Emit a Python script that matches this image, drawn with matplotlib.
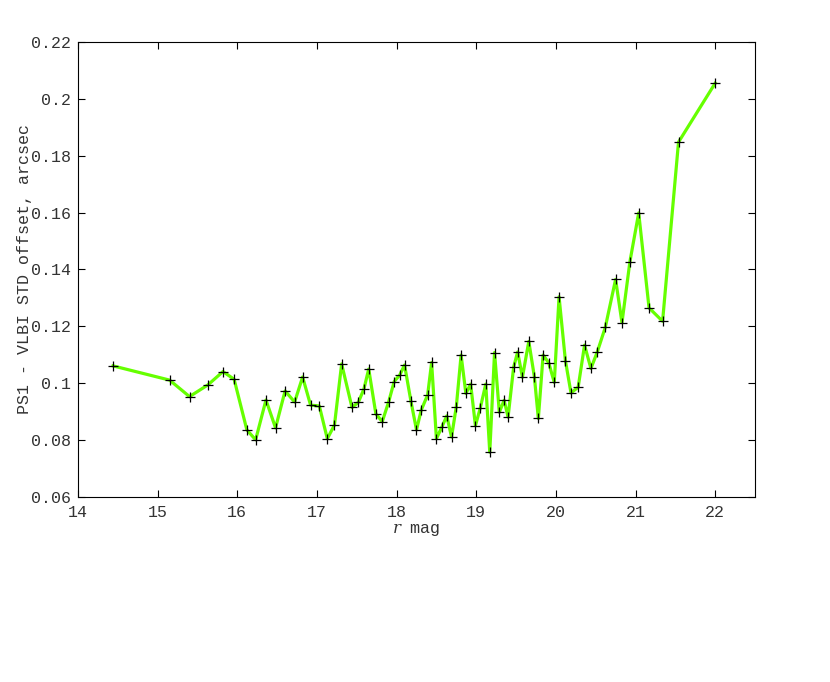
import matplotlib
matplotlib.use("Agg")
import matplotlib.pyplot as plt

# r magnitude bins and PS1 - VLBI std offset (arcsec)
r_mag = [14.44, 15.15, 15.40, 15.63, 15.82, 15.96, 16.12, 16.23, 16.36, 16.48,
         16.60, 16.72, 16.82, 16.92, 17.03, 17.13, 17.22, 17.31, 17.44, 17.52,
         17.59, 17.65, 17.74, 17.82, 17.90, 17.97, 18.04, 18.10, 18.18, 18.25,
         18.31, 18.39, 18.44, 18.50, 18.57, 18.63, 18.69, 18.75, 18.81, 18.87,
         18.93, 18.99, 19.05, 19.12, 19.17, 19.23, 19.29, 19.35, 19.40, 19.47,
         19.52, 19.58, 19.66, 19.73, 19.78, 19.84, 19.91, 19.98, 20.04, 20.12,
         20.19, 20.28, 20.36, 20.44, 20.52, 20.62, 20.75, 20.83, 20.93, 21.04,
         21.17, 21.34, 21.54, 22.00]
std_offset = [0.1061, 0.1011, 0.0953, 0.0994, 0.1041, 0.1014, 0.0836, 0.0801, 0.0941, 0.0843,
              0.0973, 0.0934, 0.1022, 0.0923, 0.0920, 0.0805, 0.0853, 0.1068, 0.0915, 0.0933,
              0.0980, 0.1050, 0.0892, 0.0865, 0.0934, 0.1006, 0.1029, 0.1064, 0.0937, 0.0836,
              0.0906, 0.0959, 0.1073, 0.0805, 0.0847, 0.0885, 0.0811, 0.0918, 0.1099, 0.0964,
              0.0997, 0.0851, 0.0912, 0.0997, 0.0757, 0.1108, 0.0898, 0.0940, 0.0881, 0.1057,
              0.1110, 0.1021, 0.1147, 0.1023, 0.0876, 0.1099, 0.1072, 0.1003, 0.1304, 0.1079,
              0.0966, 0.0986, 0.1134, 0.1052, 0.1110, 0.1196, 0.1365, 0.1213, 0.1428, 0.1599,
              0.1265, 0.1218, 0.1848, 0.2055]

x_ticks = [14, 15, 16, 17, 18, 19, 20, 21, 22]
y_ticks = [0.06, 0.08, 0.1, 0.12, 0.14, 0.16, 0.18, 0.2, 0.22]
y_ticklabels = ['0.06', '0.08', '0.1', '0.12', '0.14', '0.16', '0.18', '0.2', '0.22']

plt.rcParams['font.family'] = ['Liberation Mono', 'DejaVu Sans Mono']
plt.rcParams['mathtext.fontset'] = 'dejavuserif'

fig = plt.figure(figsize=(8.3, 6.82), dpi=100)
ax = fig.add_axes([0.094, 0.2713, 0.8156, 0.6671])

ax.plot(r_mag, std_offset, color='#66ff00', lw=2.3, zorder=2)
ax.plot(r_mag, std_offset, ls='none', marker='+', color='black',
        markersize=6.5, mew=0.9, zorder=3)

ax.set_xlim(14, 22.5)
ax.set_ylim(0.06, 0.22)
ax.set_xticks(x_ticks)
ax.set_yticks(y_ticks)
ax.set_yticklabels(y_ticklabels)
ax.tick_params(direction='in', length=5, width=0.8, top=True, right=True,
               labelsize=12, labelcolor='#333333')
ax.tick_params(axis='x', pad=6)
ax.tick_params(axis='y', pad=5)

ax.set_xlabel('$r$ mag', fontsize=12, labelpad=1, color='#333333')
ax.set_ylabel('PS1 - VLBI STD offset, arcsec', fontsize=12, labelpad=-1,
              color='#333333')

fig.savefig('out.png', dpi=100)
